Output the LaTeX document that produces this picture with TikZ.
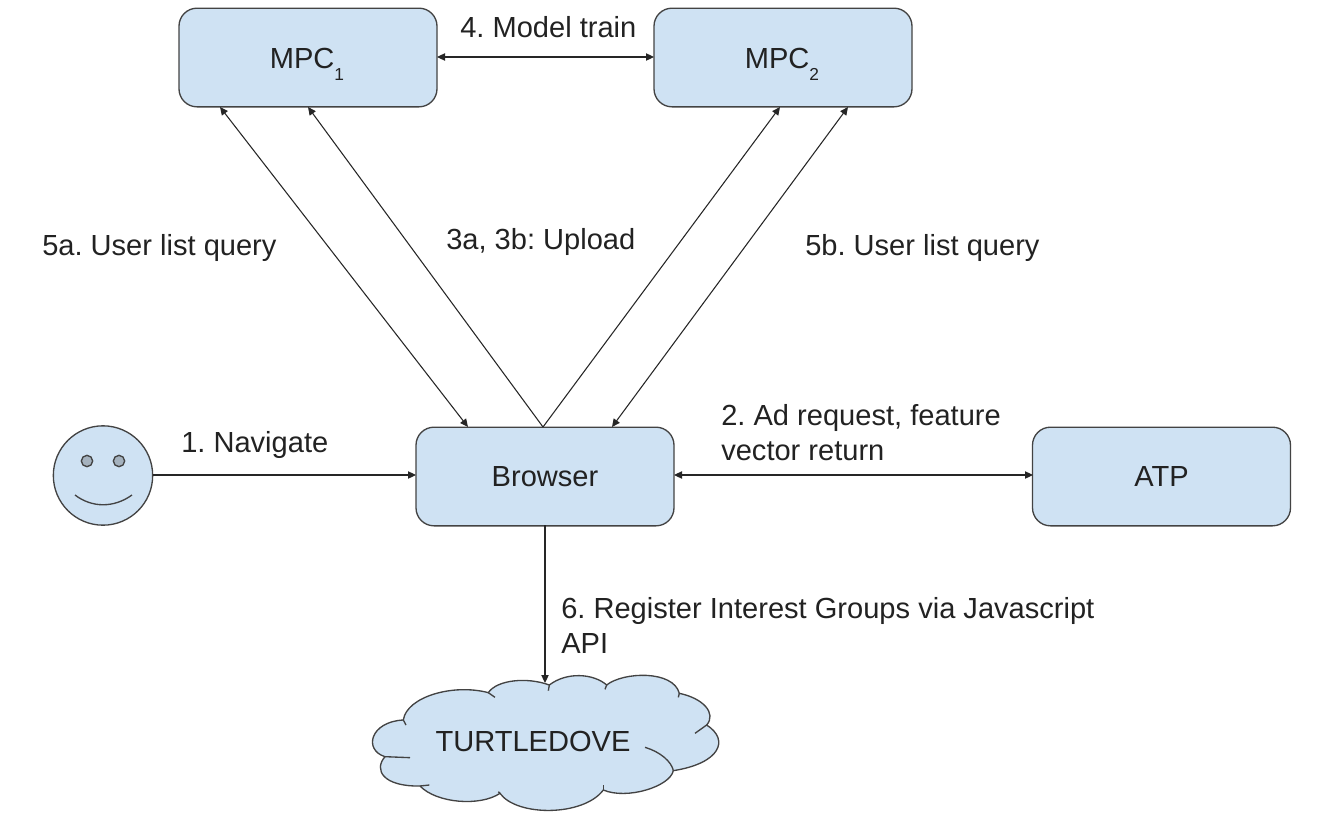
\documentclass[tikz,border=0pt]{standalone}
\usepackage{fontspec}
\setmainfont{Liberation Sans}
\usetikzlibrary{arrows.meta}
\definecolor{boxfill}{HTML}{CFE2F3}
\definecolor{boxline}{HTML}{434343}
\definecolor{txt}{HTML}{222222}
\newcommand{\subdigit}[1]{\raisebox{-0.42em}{\fontsize{13pt}{13pt}\selectfont #1}}
\tikzset{
  x=0.75pt,y=-0.75pt,
  every node/.style={font=\fontsize{21.8pt}{26.2pt}\selectfont\frenchspacing,text=txt},
  box/.style={draw=boxline,fill=boxfill,line width=1pt,rounded corners=13.5pt,minimum width=193.5pt,minimum height=74pt,inner sep=0pt},
  link/.style={draw=black!85,line width=0.8pt,-{Triangle[length=6pt,width=5.5pt]},shorten >=0pt},
  dlink/.style={link,{Triangle[length=6pt,width=5.5pt]}-{Triangle[length=6pt,width=5.5pt]}},
  lbl/.style={anchor=west,align=left,inner sep=0pt},
  shapeline/.style={draw=boxline,line width=1pt},
}
\begin{document}
\begin{tikzpicture}
\useasboundingbox (0,0) rectangle (1322,818);
\node[box] (mpca) at (308,57.5) {};
\node at (307,64) {MPC\subdigit{1}};
\node[box] (mpcb) at (783,57.5) {};
\node at (782,64) {MPC\subdigit{2}};
\node[box] (browser) at (545,476.5) {Browser};
\node[box] (atp) at (1161.5,476.5) {ATP};
\node[draw=boxline,fill=boxfill,line width=1pt,circle,minimum size=74.5pt,inner sep=0pt] (face) at (103,475.5) {};
% face details
\node[shapeline,draw,circle,fill=boxfill!70!boxline,minimum size=8.5pt,inner sep=0pt] (eyea) at (87,461) {};
\node[shapeline,draw,circle,fill=boxfill!70!boxline,minimum size=8.5pt,inner sep=0pt] (eyeb) at (119,461) {};
\draw[shapeline] (75,495) .. controls (92,508) and (114,508) .. (132,495);
% cloud
\begin{scope}[shift={(340,650)},x=0.25pt,y=-0.25pt]
\path[draw=boxline,fill=boxfill,line width=1pt] (190,210)
 .. controls (200,140) and (340,100) .. (445,128)
 .. controls (470,90) and (560,80) .. (628,105)
 .. controls (680,65) and (760,70) .. (800,105)
 .. controls (850,65) and (1000,60) .. (1018,130)
 .. controls (1090,145) and (1130,190) .. (1100,225)
 .. controls (1170,270) and (1140,340) .. (1000,362)
 .. controls (990,410) and (860,450) .. (790,420)
 .. controls (730,500) and (530,500) .. (480,430)
 .. controls (420,470) and (290,460) .. (240,408)
 .. controls (130,410) and (100,360) .. (135,320)
 .. controls (70,300) and (90,215) .. (190,210) -- cycle;
\draw[shapeline] (445,128) -- (465,142);
\draw[shapeline] (628,105) -- (625,122);
\draw[shapeline] (800,105) -- (795,118);
\draw[shapeline] (1018,130) -- (1015,142);
\draw[shapeline] (1100,225) -- (1065,250);
\draw[shapeline] (915,292) .. controls (960,305) and (995,335) .. (1000,362);
\draw[shapeline] (790,420) -- (790,405);
\draw[shapeline] (480,430) -- (475,425);
\draw[shapeline] (240,408) -- (268,405);
\draw[shapeline] (135,320) -- (210,323);
\draw[shapeline] (190,210) -- (198,225);
\end{scope}
\node (cloud) at (533,741) {TURTLEDOVE};
\coordinate (cloudtop) at (545,683);
% connector ends
\coordinate (pa) at (220,107);
\coordinate (pb) at (308,107);
\coordinate (pc) at (780,107);
\coordinate (pd) at (848,107);
\coordinate (ba) at (468,427);
\coordinate (bb) at (543,427);
\coordinate (bd) at (612,427);
\coordinate (ma) at (437,57);
\coordinate (mb) at (654,57);
\coordinate (fr) at (153,475);
\coordinate (bl) at (416,475);
\coordinate (br) at (674,475);
\coordinate (al) at (1033,475);
\coordinate (bs) at (545,525);
\draw[dlink] (pa) -- (ba);
\draw[link] (bb) -- (pb);
\draw[link] (bb) -- (pc);
\draw[dlink] (pd) -- (bd);
\draw[dlink] (ma) -- (mb);
\draw[link] (fr) -- (bl);
\draw[dlink] (br) -- (al);
\draw[link] (bs) -- (cloudtop);
% labels
\node[lbl] (l4) at (460,27) {4. Model train};
\node[lbl] (l5a) at (42,247.5) {5a. User list query};
\node[lbl] (l3) at (446,241.5) {3a, 3b: Upload};
\node[lbl] (l5b) at (805,247.5) {5b. User list query};
\node[lbl] (l1) at (181,444.5) {1. Navigate};
\node[lbl] (l2) at (721,433) {2. Ad request, feature\\vector return};
\node[lbl] (l6) at (561,625) {6. Register Interest Groups via Javascript\\API};
\end{tikzpicture}
\end{document}
